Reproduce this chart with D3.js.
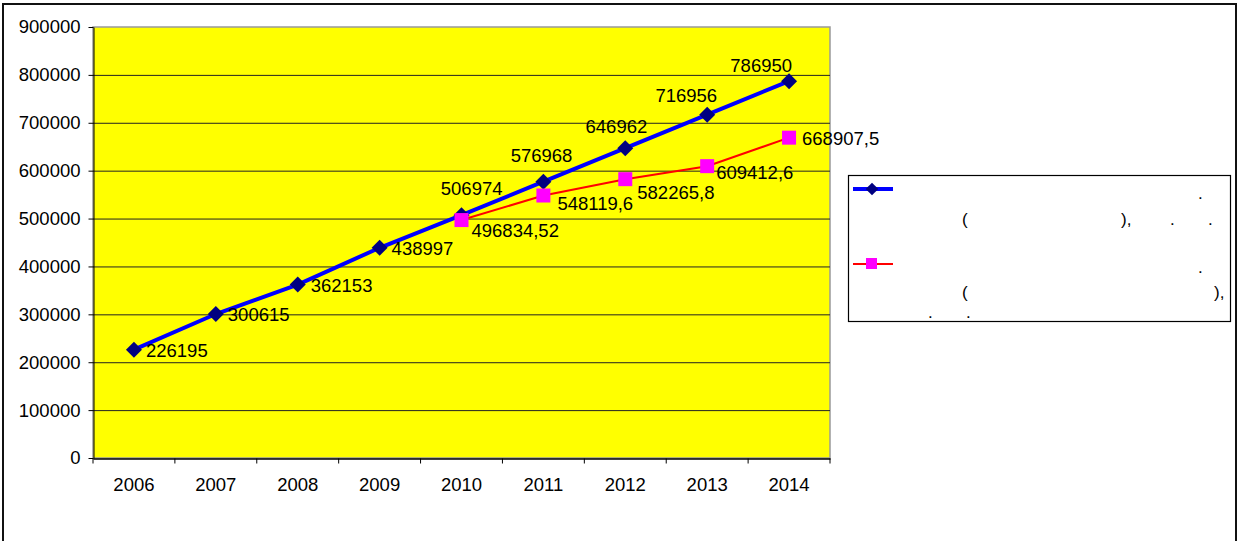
<!DOCTYPE html>
<html>
<head>
<meta charset="utf-8">
<script src="https://cdn.jsdelivr.net/npm/d3@7"></script>
<style>
  body { margin: 0; background: #fff; }
  text { font-family: "Liberation Sans", Arial, sans-serif; }
</style>
</head>
<body>
<svg id="chart" width="1240" height="541"></svg>
<script>
// data
const years = ["2006", "2007", "2008", "2009", "2010", "2011", "2012", "2013", "2014"];
const actual = [226195, 300615, 362153, 438997, 506974, 576968, 646962, 716956, 786950];
const forecastYears = ["2010", "2011", "2012", "2013", "2014"];
const forecast = [496834.52, 548119.6, 582265.8, 609412.6, 668907.5];
const forecastLabels = ["496834,52", "548119,6", "582265,8", "609412,6", "668907,5"];
const yTicks = [0, 100000, 200000, 300000, 400000, 500000, 600000, 700000, 800000, 900000];

// label offsets (layout only)
const actualLabelPos = [
  [12, 7, "start"], [12, 7, "start"], [13, 7, "start"], [12, 7, "start"],
  [41, -20, "end"], [29, -20, "end"], [22, -15, "end"], [10, -13, "end"], [3, -9, "end"]
];
const forecastLabelPos = [[10, 17], [14, 14], [12, 20], [9, 13], [13, 7]];

const FS = 18.5;
const svg = d3.select("#chart");
const margin = { left: 93, top: 27, right: 830, bottom: 458 };

// outer frame
svg.append("rect")
  .attr("x", 3).attr("y", 4)
  .attr("width", 1233).attr("height", 560)
  .attr("fill", "none").attr("stroke", "#111").attr("stroke-width", 2);

const x = d3.scaleBand().domain(years).range([margin.left, margin.right]);
const y = d3.scaleLinear().domain([0, 900000]).range([margin.bottom, margin.top]);
const cx = (d) => x(d) + x.bandwidth() / 2;

// plot area
svg.append("rect")
  .attr("x", margin.left).attr("y", margin.top)
  .attr("width", margin.right - margin.left).attr("height", margin.bottom - margin.top)
  .attr("fill", "#ffff00").attr("stroke", "#999").attr("stroke-width", 1.5);

// gridlines
svg.append("g")
  .selectAll("line")
  .data(yTicks.slice(1, -1))
  .join("line")
  .attr("x1", margin.left).attr("x2", margin.right)
  .attr("y1", (d) => y(d) + 0.5).attr("y2", (d) => y(d) + 0.5)
  .attr("stroke", "#222").attr("stroke-width", 1);

// y axis
const yAxis = svg.append("g")
  .attr("transform", `translate(${margin.left + 0.5},0)`)
  .call(d3.axisLeft(y).tickValues(yTicks).tickSize(5).tickSizeOuter(0).tickPadding(8).tickFormat(d3.format("d")));
yAxis.select(".domain").attr("stroke", "#000");
yAxis.selectAll(".tick line").attr("stroke", "#000");
yAxis.selectAll("text").attr("font-size", FS).attr("fill", "#000")
  .attr("font-family", "Liberation Sans, Arial, sans-serif");

// x axis
const xAxis = svg.append("g")
  .attr("transform", `translate(0,${margin.bottom + 0.5})`)
  .call(d3.axisBottom(x).tickSize(0).tickPadding(19));
xAxis.select(".domain").attr("stroke", "#000").attr("stroke-width", 1.5);
xAxis.selectAll("text").attr("font-size", FS).attr("fill", "#000")
  .attr("font-family", "Liberation Sans, Arial, sans-serif");
xAxis.selectAll(".bound")
  .data(d3.range(years.length + 1))
  .join("line")
  .attr("x1", (i) => margin.left + i * x.bandwidth())
  .attr("x2", (i) => margin.left + i * x.bandwidth())
  .attr("y1", 0).attr("y2", 5)
  .attr("stroke", "#000");

const fData = forecastYears.map((yr, i) => ({ yr, v: forecast[i], label: forecastLabels[i] }));
const aData = years.map((yr, i) => ({ yr, v: actual[i] }));

// actual line (blue)
svg.append("path")
  .datum(aData)
  .attr("fill", "none").attr("stroke", "#0000ff").attr("stroke-width", 4)
  .attr("d", d3.line().x((d) => cx(d.yr)).y((d) => y(d.v)));

// forecast line (red)
svg.append("path")
  .datum(fData)
  .attr("fill", "none").attr("stroke", "#ff0000").attr("stroke-width", 2)
  .attr("d", d3.line().x((d) => cx(d.yr)).y((d) => y(d.v)));

// diamonds
svg.append("g")
  .selectAll("path")
  .data(aData)
  .join("path")
  .attr("d", d3.symbol(d3.symbolSquare, 128))
  .attr("transform", (d) => `translate(${cx(d.yr)},${y(d.v)}) rotate(45)`)
  .attr("fill", "#000080");

// squares
svg.append("g")
  .selectAll("rect")
  .data(fData)
  .join("rect")
  .attr("x", (d) => cx(d.yr) - 7).attr("y", (d) => y(d.v) - 7)
  .attr("width", 14).attr("height", 14)
  .attr("fill", "#ff00ff");

// labels
svg.append("g")
  .selectAll("text")
  .data(aData)
  .join("text")
  .attr("x", (d, i) => cx(d.yr) + actualLabelPos[i][0])
  .attr("y", (d, i) => y(d.v) + actualLabelPos[i][1])
  .attr("text-anchor", (d, i) => actualLabelPos[i][2])
  .attr("font-size", FS).attr("fill", "#000")
  .text((d) => d.v);

svg.append("g")
  .selectAll("text")
  .data(fData)
  .join("text")
  .attr("x", (d, i) => cx(d.yr) + forecastLabelPos[i][0])
  .attr("y", (d, i) => y(d.v) + forecastLabelPos[i][1])
  .attr("font-size", FS).attr("fill", "#000")
  .text((d) => d.label);

// legend
const legend = svg.append("g");
legend.append("rect")
  .attr("x", 848.5).attr("y", 175.5).attr("width", 382).attr("height", 146)
  .attr("fill", "#fff").attr("stroke", "#000").attr("stroke-width", 1.2);

legend.append("line").attr("x1", 853).attr("x2", 893).attr("y1", 189).attr("y2", 189)
  .attr("stroke", "#0000ff").attr("stroke-width", 4);
legend.append("path").attr("d", d3.symbol(d3.symbolSquare, 80))
  .attr("transform", "translate(872,189) rotate(45)").attr("fill", "#000080");
legend.append("line").attr("x1", 853).attr("x2", 893).attr("y1", 264).attr("y2", 264)
  .attr("stroke", "#ff0000").attr("stroke-width", 2);
legend.append("rect").attr("x", 866).attr("y", 258).attr("width", 11).attr("height", 11)
  .attr("fill", "#ff00ff");

// legend text fragments (glyphs of the original text are missing; only punctuation shows)
const legendBits = [
  [1198, 199, "."], [962, 225, "("], [1121, 225, "),"], [1170, 225, "."], [1208, 225, "."],
  [1198, 273, "."], [962, 298, "("], [1214, 298, "),"], [928, 318, "."], [966, 318, "."]
];
legend.selectAll(".bit")
  .data(legendBits)
  .join("text")
  .attr("x", (d) => d[0]).attr("y", (d) => d[1])
  .attr("font-size", 17).attr("fill", "#000")
  .text((d) => d[2]);
</script>
</body>
</html>
